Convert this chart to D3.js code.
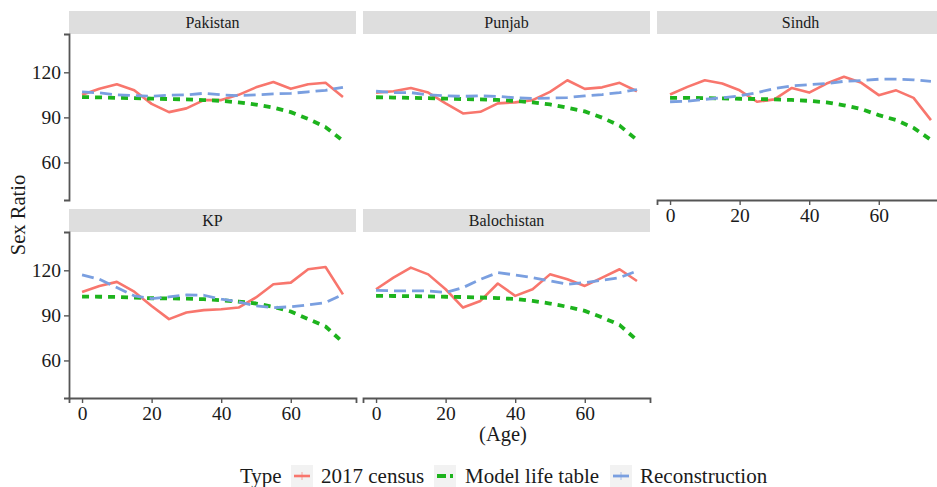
<!DOCTYPE html>
<html>
<head>
<meta charset="utf-8">
<script src="https://cdn.jsdelivr.net/npm/d3@7"></script>
<style>
  html, body { margin: 0; padding: 0; background: #fff; }
  svg { display: block; }
  text { font-family: "Liberation Serif", "Times New Roman", serif; }
</style>
</head>
<body>
<svg id="chart" width="937" height="487"></svg>
<script>
// Age groups (years)
const ages = [0, 5, 10, 15, 20, 25, 30, 35, 40, 45, 50, 55, 60, 65, 70, 75];

// Sex ratio (males per 100 females) by region and source
const pakistanCensus = [105, 109, 112, 108, 99, 93.5, 96, 101.5, 101.5, 105, 110, 113.5, 109, 112, 113, 103.5];
const pakistanModel  = [103.5, 103.3, 103, 102.8, 102.5, 102.2, 102, 101.5, 101, 100, 98.5, 96.5, 93.5, 89, 83.5, 74.5];
const pakistanRecon  = [107, 106.3, 105, 104.5, 104, 104.8, 105, 106, 105, 104.5, 105, 105.6, 106, 107, 108, 110];

const punjabCensus = [106.5, 107.4, 109.6, 106.5, 99.3, 92.6, 93.7, 99.3, 100, 101.5, 107, 114.7, 109, 110, 113, 107.4];
const punjabModel  = [103.4, 103.2, 103, 102.8, 102.5, 102.2, 102, 101.6, 101, 100, 98.6, 96.4, 94, 89.8, 84.5, 75];
const punjabRecon  = [107.4, 106.5, 106.5, 105, 104.3, 104, 104.3, 104, 103, 102.6, 102.8, 103.2, 104.3, 105.2, 106.5, 108.5];

const sindhCensus = [105.2, 110.3, 114.7, 112.5, 108, 100.4, 102, 109.6, 106.5, 112.5, 117, 113, 104.8, 108, 103, 88.2];
const sindhModel  = [103, 103, 102.8, 102.6, 102.4, 102.2, 102, 101.6, 101, 100, 98, 95.5, 91.5, 88.2, 83, 75];
const sindhRecon  = [100.4, 100.8, 102, 103, 104.3, 106.5, 109.2, 111, 111.8, 112.5, 114, 114.5, 115.4, 115.4, 115, 114];

const kpCensus = [105.6, 109.6, 112.3, 105.8, 96.3, 87.5, 91.9, 93.5, 94.1, 95.2, 101.9, 110.7, 111.8, 120.7, 122.2, 104];
const kpModel  = [102.5, 102.4, 102.3, 101.9, 101.4, 101.3, 101.1, 100.8, 100.1, 99.2, 97.9, 95.7, 92.6, 87.5, 82.6, 72];
const kpRecon  = [116.9, 114, 108.5, 103, 101.2, 102.3, 103.6, 103.4, 100.8, 99, 96.3, 95.2, 95.7, 97, 98.5, 104];

const balochistanCensus = [107.4, 115.1, 121.8, 117.3, 107.4, 95.2, 99.6, 111.2, 103, 107.4, 117.3, 114, 109.6, 115.1, 120.7, 112.9];
const balochistanModel  = [103, 102.9, 102.8, 102.6, 102.4, 102.2, 101.9, 101.5, 100.9, 99.6, 97.9, 95.7, 93, 88.6, 83.7, 73.5];
const balochistanRecon  = [106.7, 106.3, 106.3, 106.3, 105.2, 108.5, 114, 118.5, 116.9, 115.1, 112.9, 110.7, 111.8, 113.4, 115.1, 119.6];

const regions = ["Pakistan", "Punjab", "Sindh", "KP", "Balochistan"];
const types = ["2017 census", "Model life table", "Reconstruction"];
const xTicks = [0, 20, 40, 60];
const yTicks = [60, 90, 120];

const regionSeries = {
  "Pakistan":    [pakistanCensus, pakistanModel, pakistanRecon],
  "Punjab":      [punjabCensus, punjabModel, punjabRecon],
  "Sindh":       [sindhCensus, sindhModel, sindhRecon],
  "KP":          [kpCensus, kpModel, kpRecon],
  "Balochistan": [balochistanCensus, balochistanModel, balochistanRecon]
};

// Line appearance per type
const typeStyle = {
  "2017 census":      { color: "#F8766D", width: 2.6, dash: null },
  "Model life table": { color: "#1DB31D", width: 3.8, dash: "7,6" },
  "Reconstruction":   { color: "#7A9FE0", width: 2.8, dash: "12,6" }
};

// Facet layout (3 columns, wrapped)
const colX = [69, 363, 657];
const panelW = 287;
const rowStripTop = [11, 209];
const stripH = 23;
const panelH = 166;

const svg = d3.select("#chart");

const x = d3.scaleLinear().domain([-3.75, 78.75]).range([0, panelW]);
const y = d3.scaleLinear().domain([35, 145.5]).range([panelH, 0]);

const line = d3.line()
  .x((d, i) => x(ages[i]))
  .y(d => y(d));

const axisColor = "#555";
const textColor = "#1a1a1a";

regions.forEach((name, idx) => {
  const col = idx % 3;
  const row = Math.floor(idx / 3);
  const px = colX[col];
  const stripTop = rowStripTop[row];
  const py = stripTop + stripH;

  // strip
  svg.append("rect")
    .attr("x", px).attr("y", stripTop)
    .attr("width", panelW).attr("height", stripH)
    .attr("fill", "#DEDEDE");
  svg.append("text")
    .attr("x", px + panelW / 2).attr("y", stripTop + stripH / 2 + 5.5)
    .attr("text-anchor", "middle")
    .attr("font-size", 16)
    .attr("fill", textColor)
    .text(name);

  const g = svg.append("g").attr("transform", `translate(${px},${py})`);

  // series lines
  regionSeries[name].forEach((vals, k) => {
    const st = typeStyle[types[k]];
    g.append("path")
      .datum(vals)
      .attr("d", line)
      .attr("fill", "none")
      .attr("stroke", st.color)
      .attr("stroke-width", st.width)
      .attr("stroke-linejoin", "round")
      .attr("stroke-dasharray", st.dash);
  });

  // left axis on first column
  if (col === 0) {
    const ya = g.append("g").call(d3.axisLeft(y).tickValues(yTicks).tickSize(5).tickPadding(3));
    ya.select(".domain").attr("stroke", axisColor).attr("stroke-width", 1.8);
    ya.selectAll(".tick line").attr("stroke", axisColor).attr("stroke-width", 1.4);
    ya.selectAll(".tick text")
      .attr("font-size", 19.5).attr("fill", textColor)
      .attr("font-family", "Liberation Serif, serif");
  }

  // bottom axis on panels with nothing below
  if (row === 1 || col === 2) {
    const xa = g.append("g").attr("transform", `translate(0,${panelH})`)
      .call(d3.axisBottom(x).tickValues(xTicks).tickSize(5).tickPadding(3));
    xa.select(".domain").attr("stroke", axisColor).attr("stroke-width", 1.8);
    xa.selectAll(".tick line").attr("stroke", axisColor).attr("stroke-width", 1.4);
    xa.selectAll(".tick text")
      .attr("font-size", 19.5).attr("fill", textColor)
      .attr("font-family", "Liberation Serif, serif");
  }
});

// axis titles
svg.append("text")
  .attr("transform", "translate(25,215) rotate(-90)")
  .attr("text-anchor", "middle")
  .attr("font-size", 20.5)
  .attr("fill", textColor)
  .text("Sex Ratio");

svg.append("text")
  .attr("x", 503).attr("y", 441)
  .attr("text-anchor", "middle")
  .attr("font-size", 20.5)
  .attr("fill", textColor)
  .text("(Age)");

// legend
const legY = 476;
svg.append("text")
  .attr("x", 240).attr("y", legY + 7)
  .attr("font-size", 21)
  .attr("fill", textColor)
  .text("Type");

const legendItems = [
  { type: "2017 census", keyX: 291, textX: 321 },
  { type: "Model life table", keyX: 434, textX: 465 },
  { type: "Reconstruction", keyX: 610, textX: 640 }
];

legendItems.forEach(it => {
  const st = typeStyle[it.type];
  svg.append("rect")
    .attr("x", it.keyX).attr("y", legY - 11)
    .attr("width", 22).attr("height", 22)
    .attr("fill", "#F2F2F2");
  svg.append("line")
    .attr("x1", it.keyX + 3).attr("x2", it.keyX + 19)
    .attr("y1", legY).attr("y2", legY)
    .attr("stroke", st.color)
    .attr("stroke-width", st.width)
    .attr("stroke-dasharray", it.type === "Model life table" ? "9,4" : null);
  if (it.type !== "Model life table") {
    svg.append("line")
      .attr("x1", it.keyX + 11).attr("x2", it.keyX + 11)
      .attr("y1", legY - 4).attr("y2", legY + 4)
      .attr("stroke", st.color)
      .attr("stroke-opacity", 0.6)
      .attr("stroke-width", 1);
  }
  svg.append("text")
    .attr("x", it.textX).attr("y", legY + 7)
    .attr("font-size", 21)
    .attr("fill", textColor)
    .text(it.type);
});
</script>
</body>
</html>
